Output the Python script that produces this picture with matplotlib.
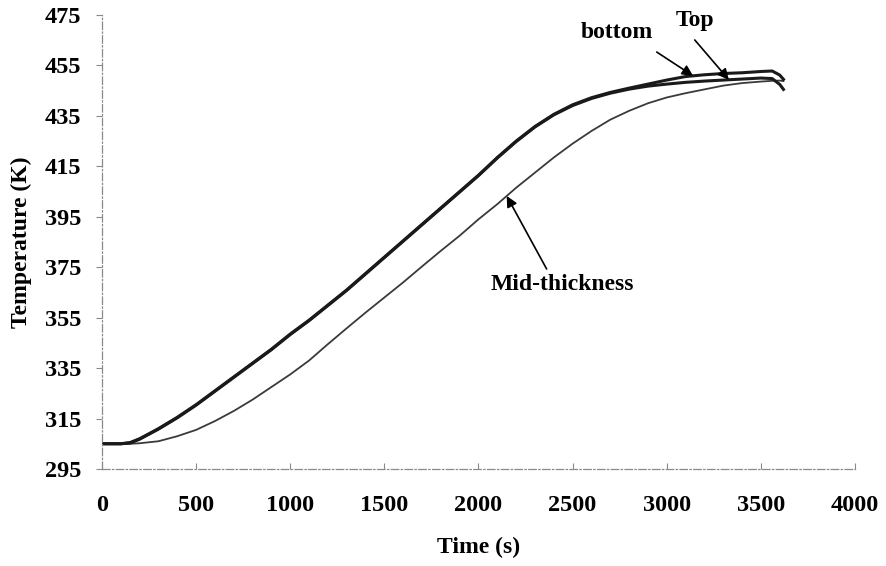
import numpy as np
import matplotlib
matplotlib.use('Agg')
import matplotlib.pyplot as plt

plt.rcParams['font.family'] = ['Liberation Serif', 'DejaVu Serif']
plt.rcParams['font.weight'] = 'bold'

## -------------------------------- data --------------------------------
time_s = [0, 100, 150, 200, 300, 400, 500, 600, 700, 800, 900, 1000, 1100, 1200,
          1300, 1400, 1500, 1600, 1700, 1800, 1900, 2000, 2100, 2200, 2300, 2400,
          2500, 2600, 2700, 2800, 2900, 3000, 3100, 3200, 3300, 3400, 3500, 3560,
          3600, 3620]

bottom_K = [305, 305, 305.5, 307, 311, 315.5, 320.5, 326, 331.5, 337, 342.5, 348.5,
            354, 360, 366, 372.5, 379, 385.5, 392, 398.5, 405, 411.5, 418.5, 425,
            430.8, 435.6, 439.4, 442.2, 444.3, 446, 447.6, 449.2, 450.6, 451.3, 451.8,
            452.1, 452.6, 452.8, 451.2, 449.5]

top_K = [305, 305, 305.3, 306.8, 310.8, 315.3, 320.3, 325.8, 331.3, 336.8, 342.3,
         348.3, 353.8, 359.8, 365.8, 372.3, 378.8, 385.3, 391.8, 398.3, 404.8, 411.3,
         418.3, 424.8, 430.6, 435.4, 439.1, 441.9, 444, 445.6, 446.8, 447.6, 448.3,
         448.8, 449.2, 449.6, 450, 449.8, 447.5, 445.5]

mid_K = [305, 305, 305, 305.2, 306, 308, 310.5, 314, 318, 322.5, 327.5, 332.5, 338,
         344.5, 350.8, 357, 363, 369, 375.3, 381.5, 387.5, 394, 400, 406.5, 412.5, 418.5,
         424, 429, 433.5, 437, 440, 442.3, 444, 445.5, 447, 448, 448.6, 448.9, 449,
         448.8]

x_ticks = [0, 500, 1000, 1500, 2000, 2500, 3000, 3500, 4000]
y_ticks = [295, 315, 335, 355, 375, 395, 415, 435, 455, 475]

## -------------------------------- plotting --------------------------------
fig = plt.figure(figsize=(8.86, 5.66), dpi=100)
ax = fig.add_axes([0.1151, 0.1714, 0.8499, 0.8021])

ax.plot(time_s, mid_K, color='#3a3a3a', linewidth=1.3)
ax.plot(time_s, top_K, color='#1a1a1a', linewidth=2.2)
ax.plot(time_s, bottom_K, color='#1a1a1a', linewidth=2.2)

ax.set_xlim(0, 4000)
ax.set_ylim(295, 475)
ax.set_xticks(x_ticks)
ax.set_yticks(y_ticks)

for side in ['top', 'right']:
    ax.spines[side].set_visible(False)
for side in ['left', 'bottom']:
    ax.spines[side].set_color('#8a8a8a')
    ax.spines[side].set_linestyle((0, (6, 2, 1, 2)))
    ax.spines[side].set_linewidth(0.9)

ax.tick_params(axis='y', direction='out', length=4, color='#8a8a8a', pad=11, labelsize=17.5)
ax.tick_params(axis='x', direction='in', length=4, color='#8a8a8a', pad=19, labelsize=17.5)
for lab in ax.get_xticklabels() + ax.get_yticklabels():
    lab.set_fontweight('bold')

ax.set_xlabel('Time (s)', fontsize=17, fontweight='bold', labelpad=15)
ax.set_ylabel('Temperature (K)', fontsize=17, fontweight='bold', labelpad=9)

# arrows pointing at the curves
arrow = dict(arrowstyle='-|>', color='black', linewidth=1.2, mutation_scale=16,
             shrinkA=0, shrinkB=0)

t_b = 3140
ax.annotate('', xy=(t_b, np.interp(t_b, time_s, bottom_K)), xytext=(2947, 460.3),
            arrowprops=arrow)
ax.text(2735, 468.0, 'bottom', ha='center', va='center', fontsize=17, fontweight='bold')

t_t = 3330
ax.annotate('', xy=(t_t, np.interp(t_t, time_s, top_K)), xytext=(3149, 465.1),
            arrowprops=arrow)
ax.text(3149, 472.8, 'Top', ha='center', va='center', fontsize=17, fontweight='bold')

t_m = 2150
ax.annotate('', xy=(t_m, np.interp(t_m, time_s, mid_K)), xytext=(2362, 374.3),
            arrowprops=arrow)
ax.text(2443, 368.0, 'Mid-thickness', ha='center', va='center', fontsize=17,
        fontweight='bold')

plt.savefig('out.png', dpi=100)
